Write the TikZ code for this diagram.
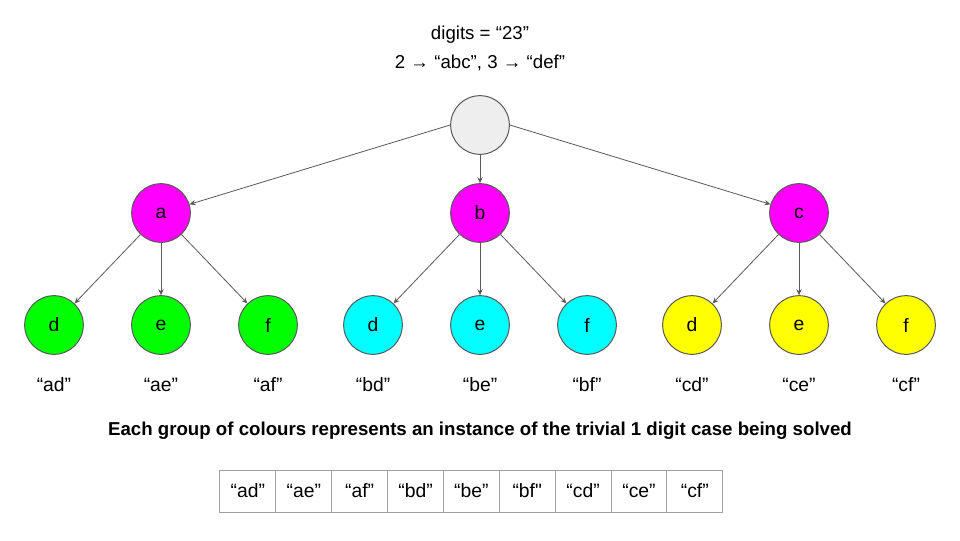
\documentclass[tikz,border=0pt]{standalone}
\usepackage{fontspec}
\setmainfont{Liberation Sans}
\newfontfamily\rawquote{Liberation Sans}
\usetikzlibrary{arrows.meta, positioning}
\definecolor{rootGrey}{HTML}{EEEEEE}
\definecolor{lvlMagenta}{HTML}{FF00FF}
\definecolor{grpGreen}{HTML}{00FF00}
\definecolor{grpCyan}{HTML}{00FFFF}
\definecolor{grpYellow}{HTML}{FFFF00}
\definecolor{edgeGrey}{HTML}{595959}
\definecolor{cellGrey}{HTML}{A0A0A0}
\tikzset{
  letter/.style    = {circle, draw=edgeGrey, line width=0.75pt, inner sep=0pt,
                      minimum size=44pt, font=\fontsize{14.5}{16}\selectfont},
  rootnode/.style  = {letter, fill=rootGrey},
  pick/.style      = {letter, fill=lvlMagenta},
  groupA/.style    = {letter, fill=grpGreen},
  groupB/.style    = {letter, fill=grpCyan},
  groupC/.style    = {letter, fill=grpYellow},
  branch/.style    = {-{Stealth[length=4.5pt, width=4pt]}, edgeGrey, line width=0.6pt},
  lbl/.style       = {font=\fontsize{14.5}{16}\selectfont},
  title/.style     = {font=\fontsize{14}{16}\selectfont},
  caption/.style   = {font=\fontsize{14}{16}\selectfont\bfseries},
  cell/.style      = {draw=cellGrey, line width=0.75pt, minimum width=41.9pt,
                      minimum height=31.5pt, inner sep=0pt, outer sep=0pt,
                      font=\fontsize{14.5}{16}\selectfont},
}

\begin{document}
\begin{tikzpicture}[x=0.75pt, y=-0.75pt]
  \useasboundingbox (0,0) rectangle (960,540);
  \fill[white] (0,0) rectangle (960,540);

  \node[title] (given) at (480,35) {digits = “23”};
  \node[title] (mapping) at (480,63) {2 → “abc”, 3 → “def”};

  \node[rootnode] (root) at (480,125) {};

  \node[pick] (a) at (161,213) {a};
  \node[pick] (b) at (480,213) {b};
  \node[pick] (c) at (799,213) {c};

  \node[groupA] (ad) at (54,325)  {d};
  \node[groupA] (ae) at (161,325) {e};
  \node[groupA] (af) at (268,325) {f};
  \node[groupB] (bd) at (373,325) {d};
  \node[groupB] (be) at (480,325) {e};
  \node[groupB] (bf) at (587,325) {f};
  \node[groupC] (cd) at (692,325) {d};
  \node[groupC] (ce) at (799,325) {e};
  \node[groupC] (cf) at (906,325) {f};

  \draw[branch] (root.west) -- (a);
  \draw[branch] (root.south) -- (b.north);
  \draw[branch] (root.east) -- (c);

  \draw[branch] (a) -- (ad);
  \draw[branch] (a.south) -- (ae.north);
  \draw[branch] (a) -- (af);
  \draw[branch] (b) -- (bd);
  \draw[branch] (b.south) -- (be.north);
  \draw[branch] (b) -- (bf);
  \draw[branch] (c) -- (cd);
  \draw[branch] (c.south) -- (ce.north);
  \draw[branch] (c) -- (cf);

  % combinations under each leaf
  \node[lbl] (lad) at (54,385)  {“ad”};
  \node[lbl] (lae) at (161,385) {“ae”};
  \node[lbl] (laf) at (268,385) {“af”};
  \node[lbl] (lbd) at (373,385) {“bd”};
  \node[lbl] (lbe) at (480,385) {“be”};
  \node[lbl] (lbf) at (587,385) {“bf”};
  \node[lbl] (lcd) at (692,385) {“cd”};
  \node[lbl] (lce) at (799,385) {“ce”};
  \node[lbl] (lcf) at (906,385) {“cf”};

  \node[caption] (note) at (480,431)
    {Each group of colours represents an instance of the trivial 1 digit case being solved};

  % result list
  \node[cell] (r1) at (247.9,491) {“ad”};
  \node[cell, right=0pt of r1] (r2) {“ae”};
  \node[cell, right=0pt of r2] (r3) {“af”};
  \node[cell, right=0pt of r3] (r4) {“bd”};
  \node[cell, right=0pt of r4] (r5) {“be”};
  \node[cell, right=0pt of r5] (r6) {“bf{\rawquote"}};
  \node[cell, right=0pt of r6] (r7) {“cd”};
  \node[cell, right=0pt of r7] (r8) {“ce”};
  \node[cell, right=0pt of r8] (r9) {“cf”};
\end{tikzpicture}
\end{document}
